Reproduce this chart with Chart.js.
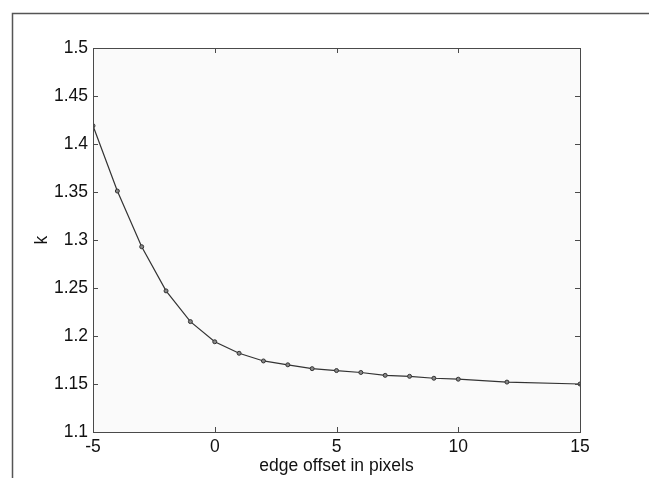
<!DOCTYPE html>
<html>
<head>
<title></title>
<style>
  * { margin: 0; padding: 0; box-sizing: border-box; }
  body { background: #fff; }
  #box { width: 649px; height: 478px; }
</style>
</head>
<body>
<div id="box"><canvas id="myChart" width="649" height="478"></canvas></div>
<script src="https://cdn.jsdelivr.net/npm/chart.js"></script>
<script>
  // edge offset (pixels) and measured k
  const offsets = [-5, -4, -3, -2, -1, 0, 1, 2, 3, 4, 5, 6, 7, 8, 9, 10, 12, 15];
  const kValues = [1.419, 1.351, 1.293, 1.247, 1.215, 1.194, 1.182, 1.174, 1.170, 1.166,
                   1.164, 1.162, 1.159, 1.158, 1.156, 1.155, 1.152, 1.150];
  const xTicks = [-5, 0, 5, 10, 15];
  const yTicks = [1.1, 1.15, 1.2, 1.25, 1.3, 1.35, 1.4, 1.45, 1.5];

  const axisColor = '#4a4a4a';
  const fontFamily = '"Liberation Sans", Arial, sans-serif';

  // matlab style box: light fill, frame, inward ticks on all four sides, outer figure frame
  const matlabBox = {
    id: 'matlabBox',
    beforeDraw(chart) {
      const { ctx, chartArea: a } = chart;
      ctx.save();
      ctx.fillStyle = '#fafafa';
      ctx.fillRect(a.left, a.top, a.right - a.left, a.bottom - a.top);
      ctx.restore();
    },
    afterDatasetsDraw(chart) {
      const { ctx, chartArea: a, scales } = chart;
      ctx.save();
      ctx.strokeStyle = axisColor;
      ctx.lineWidth = 1;
      ctx.strokeRect(a.left + 0.5, a.top + 0.5, a.right - a.left, a.bottom - a.top);
      ctx.beginPath();
      xTicks.forEach(v => {
        const x = Math.round(scales.x.getPixelForValue(v)) + 0.5;
        ctx.moveTo(x, a.bottom); ctx.lineTo(x, a.bottom - 5);
        ctx.moveTo(x, a.top); ctx.lineTo(x, a.top + 5);
      });
      yTicks.forEach(v => {
        const y = Math.round(scales.y.getPixelForValue(v)) + 0.5;
        ctx.moveTo(a.left, y); ctx.lineTo(a.left + 5, y);
        ctx.moveTo(a.right, y); ctx.lineTo(a.right - 5, y);
      });
      ctx.stroke();
      // outer figure frame (top + left)
      ctx.strokeStyle = '#555';
      ctx.lineWidth = 1.5;
      ctx.beginPath();
      ctx.moveTo(649, 13.5);
      ctx.lineTo(12.5, 13.5);
      ctx.lineTo(12.5, 478);
      ctx.stroke();
      ctx.restore();
    }
  };

  new Chart(document.getElementById('myChart'), {
    type: 'scatter',
    data: {
      datasets: [{
        label: 'k',
        data: offsets.map((x, i) => ({ x: x, y: kValues[i] })),
        showLine: true,
        tension: 0,
        borderColor: '#333',
        borderWidth: 1.2,
        pointRadius: 2,
        pointBorderWidth: 1,
        pointBackgroundColor: '#888',
        pointBorderColor: '#333'
      }]
    },
    options: {
      responsive: false,
      animation: false,
      layout: { padding: { left: 28, top: 48, right: 69, bottom: 0 } },
      plugins: { legend: { display: false }, tooltip: { enabled: false } },
      scales: {
        x: {
          type: 'linear',
          min: -5, max: 15,
          afterBuildTicks: s => { s.ticks = xTicks.map(v => ({ value: v })); },
          afterFit: s => { s.height = 46; },
          grid: { display: false, drawTicks: false },
          border: { display: false },
          ticks: { color: '#111', padding: 5, font: { family: fontFamily, size: 17.5 } },
          title: {
            display: true, text: 'edge offset in pixels', color: '#111',
            padding: { top: 0, bottom: 1 },
            font: { family: fontFamily, size: 17.5 }
          }
        },
        y: {
          min: 1.1, max: 1.5,
          afterBuildTicks: s => { s.ticks = yTicks.map(v => ({ value: v })); },
          afterFit: s => { s.width = 65; },
          grid: { display: false, drawTicks: false },
          border: { display: false },
          ticks: {
            color: '#111', padding: 5,
            font: { family: fontFamily, size: 17.5 },
            callback: v => String(Math.round(v * 100) / 100)
          },
          title: {
            display: true, text: 'k', color: '#111',
            padding: { top: 4, bottom: 0 },
            font: { family: fontFamily, size: 17.5 }
          }
        }
      }
    },
    plugins: [matlabBox]
  });
</script>
</body>
</html>
